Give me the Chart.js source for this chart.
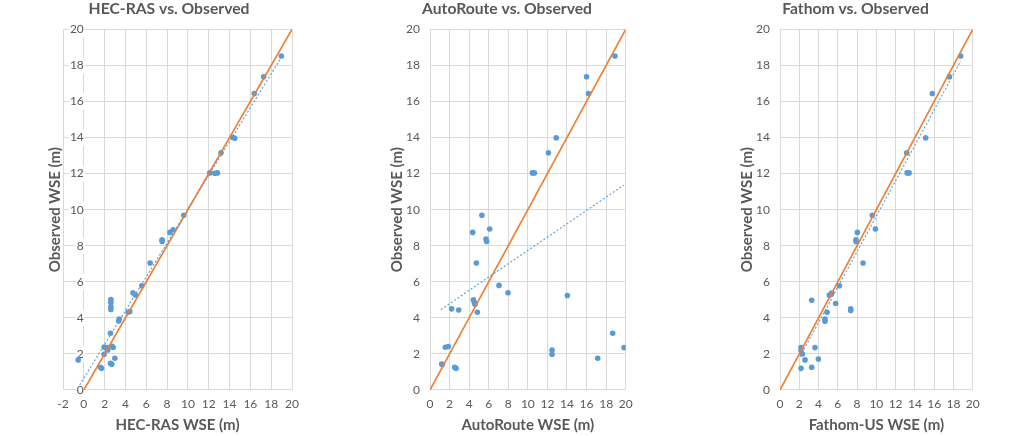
<!DOCTYPE html>
<html>
<head>
<meta charset="utf-8">
<script src="https://cdn.jsdelivr.net/npm/chart.js@4.4.1/dist/chart.umd.min.js"></script>
<style>
  html, body { margin: 0; padding: 0; background: #fff; }
  body { width: 1024px; height: 436px; position: relative; overflow: hidden; }
  .panel { position: absolute; top: 0; height: 436px; }
</style>
</head>
<body>
<div class="panel" id="p1" style="left:0px;width:340px;"><canvas id="c1"></canvas></div>
<div class="panel" id="p2" style="left:340px;width:330px;"><canvas id="c2"></canvas></div>
<div class="panel" id="p3" style="left:690px;width:334px;"><canvas id="c3"></canvas></div>
<script>
// ---------- DATA ----------
const titles = ["HEC-RAS vs. Observed", "AutoRoute vs. Observed", "Fathom vs. Observed"];
const xTitles = ["HEC-RAS WSE (m)", "AutoRoute WSE (m)", "Fathom-US WSE (m)"];
const yTitle = "Observed WSE (m)";

// HEC-RAS modeled WSE (x) vs observed WSE (y)
const hecX = [18.98, 17.28, 16.38, 14.3, 14.5, 13.18, 12.1, 12.58, 12.83, 9.6,
  8.26, 8.58, 7.52, 7.52, 6.37, 5.57, 4.72, 4.96, 4.26, 4.42, 3.35, 3.4,
  2.6, 2.6, 2.6, 2.6, 2.56, 1.95, 2.11, 2.27, 2.3, 2.72, 2.82,
  1.95, 2.98, 2.56, 2.69, 1.6, 1.7, -0.54];
const hecY = [18.52, 17.37, 16.44, 14.02, 13.96, 13.15, 12.04, 12.02, 12.04, 9.69,
  8.74, 8.89, 8.33, 8.24, 7.04, 5.78, 5.39, 5.27, 4.31, 4.35, 3.83, 3.94,
  5.02, 4.85, 4.63, 4.46, 3.15, 2.38, 2.35, 2.36, 2.22, 2.42, 2.36,
  1.98, 1.76, 1.48, 1.43, 1.26, 1.2, 1.67];

// AutoRoute modeled WSE (x) vs observed WSE (y)
const autoX = [18.9, 16.0, 16.2, 12.9, 12.1, 10.46, 10.66, 5.3,
  4.36, 6.1, 5.72, 5.79, 4.74, 7.05, 7.97, 14.04,
  4.43, 4.53, 4.6, 2.21, 2.93, 4.84,
  1.57, 1.87, 12.47, 12.47, 18.67, 19.83, 17.14,
  1.19, 1.26, 2.52, 2.66];
const autoY = [18.52, 17.37, 16.44, 13.98, 13.15, 12.04, 12.04, 9.69,
  8.74, 8.93, 8.37, 8.24, 7.04, 5.8, 5.39, 5.24,
  5.0, 4.87, 4.76, 4.5, 4.43, 4.31,
  2.37, 2.41, 2.22, 1.98, 3.15, 2.35, 1.76,
  1.44, 1.41, 1.26, 1.2];

// Fathom-US modeled WSE (x) vs observed WSE (y)
const fathomX = [18.75, 17.58, 15.81, 15.12, 13.15, 13.2, 13.4, 9.58,
  9.9, 8.03, 7.89, 7.89, 8.62, 6.16, 5.12, 5.36, 3.29, 5.78, 4.88, 4.67, 4.67, 7.34, 7.34,
  2.18, 2.18, 2.32, 2.6, 2.18, 3.29, 3.98, 3.63];
const fathomY = [18.52, 17.37, 16.44, 13.98, 13.15, 12.04, 12.04, 9.69,
  8.93, 8.74, 8.33, 8.24, 7.04, 5.78, 5.26, 5.37, 4.98, 4.8, 4.31, 3.93, 3.81, 4.5, 4.41,
  2.35, 2.17, 2.0, 1.67, 1.2, 1.26, 1.72, 2.35];

// 1:1 line and linear trendlines (end points)
const oneToOneX = [0, 20];
const oneToOneY = [0, 20];
const hecTrendX = [-0.6, 18.98];
const hecTrendY = [0.09, 18.45];
const autoTrendX = [1.12, 19.8];
const autoTrendY = [4.46, 11.36];
const fathomTrendX = [2.08, 18.75];
const fathomTrendY = [1.85, 18.24];

// axis ticks
const xMins = [-2, 0, 0];
const axisMax = 20;
const tickStep = 2;

// ---------- STYLE ----------
const FONT = "Lato, 'Open Sans', sans-serif";
const TEXT = "#595959";
const GRID = "#D9D9D9";
const BLUE = "#5B9BD5";
const ORANGE = "#ED7D31";

function pts(xs, ys) { return xs.map((x, i) => ({ x: x, y: ys[i] })); }

function makeChart(id, idx, xs, ys, tx, ty, layoutPad) {
  const yOnZero = xMins[idx] < 0;
  const scales = {
    x: {
      type: 'linear', min: xMins[idx], max: axisMax,
      ticks: { stepSize: tickStep, color: TEXT, font: { family: FONT, size: 12 }, padding: 7, maxRotation: 0 },
      grid: { color: GRID, drawTicks: false },
      border: { display: false },
      title: { display: true, text: xTitles[idx], color: TEXT, font: { family: FONT, size: 15, weight: 'bold' }, padding: { top: 0, bottom: 0 } },
      afterFit: (s) => { s.height = 44; }
    },
    y: {
      type: 'linear', min: 0, max: axisMax,
      position: yOnZero ? { x: 0 } : 'left',
      ticks: { stepSize: tickStep, color: TEXT, font: { family: FONT, size: 12 }, padding: 10,
               showLabelBackdrop: yOnZero, backdropColor: '#ffffff', backdropPadding: 1 },
      grid: { color: GRID, drawTicks: false },
      border: { display: false },
      title: { display: !yOnZero, text: yTitle, color: TEXT, font: { family: FONT, size: 15, weight: 'bold' }, padding: { top: 0, bottom: 0 } },
      afterFit: (s) => { if (!yOnZero) s.width = 41.7; }
    }
  };
  if (yOnZero) {
    scales.yt = {
      type: 'linear', min: 0, max: axisMax, position: 'left',
      ticks: { display: false },
      grid: { display: false },
      border: { display: false },
      title: { display: true, text: yTitle, color: TEXT, font: { family: FONT, size: 15, weight: 'bold' }, padding: { top: 0, bottom: 0 } },
      afterFit: (s) => { s.width = 17; }
    };
  }
  return new Chart(document.getElementById(id), {
    type: 'scatter',
    data: {
      datasets: [
        { label: 'points', data: pts(xs, ys), backgroundColor: BLUE, borderColor: BLUE, pointRadius: 2.8, pointBorderWidth: 0, order: 3 },
        { label: '1:1', data: pts(oneToOneX, oneToOneY), showLine: true, borderColor: ORANGE, borderWidth: 1.6, pointRadius: 0, order: 2 },
        { label: 'trend', data: pts(tx, ty), showLine: true, borderColor: BLUE, borderWidth: 1.1, borderDash: [2, 2], pointRadius: 0, order: 1 }
      ]
    },
    options: {
      responsive: true, maintainAspectRatio: false, animation: false,
      layout: { padding: layoutPad },
      plugins: {
        legend: { display: false },
        tooltip: { enabled: false },
        title: { display: true, text: titles[idx], color: TEXT, font: { family: FONT, size: 15.7, weight: 'bold' }, padding: { top: 0, bottom: 10.5 } }
      },
      scales: scales
    }
  });
}

makeChart('c1', 0, hecX, hecY, hecTrendX, hecTrendY, { left: 46, right: 48, top: 0, bottom: 2 });
makeChart('c2', 1, autoX, autoY, autoTrendX, autoTrendY, { left: 48.3, right: 44.3, top: 0, bottom: 2 });
makeChart('c3', 2, fathomX, fathomY, fathomTrendX, fathomTrendY, { left: 48.3, right: 51.3, top: 0, bottom: 2 });
</script>
</body>
</html>
